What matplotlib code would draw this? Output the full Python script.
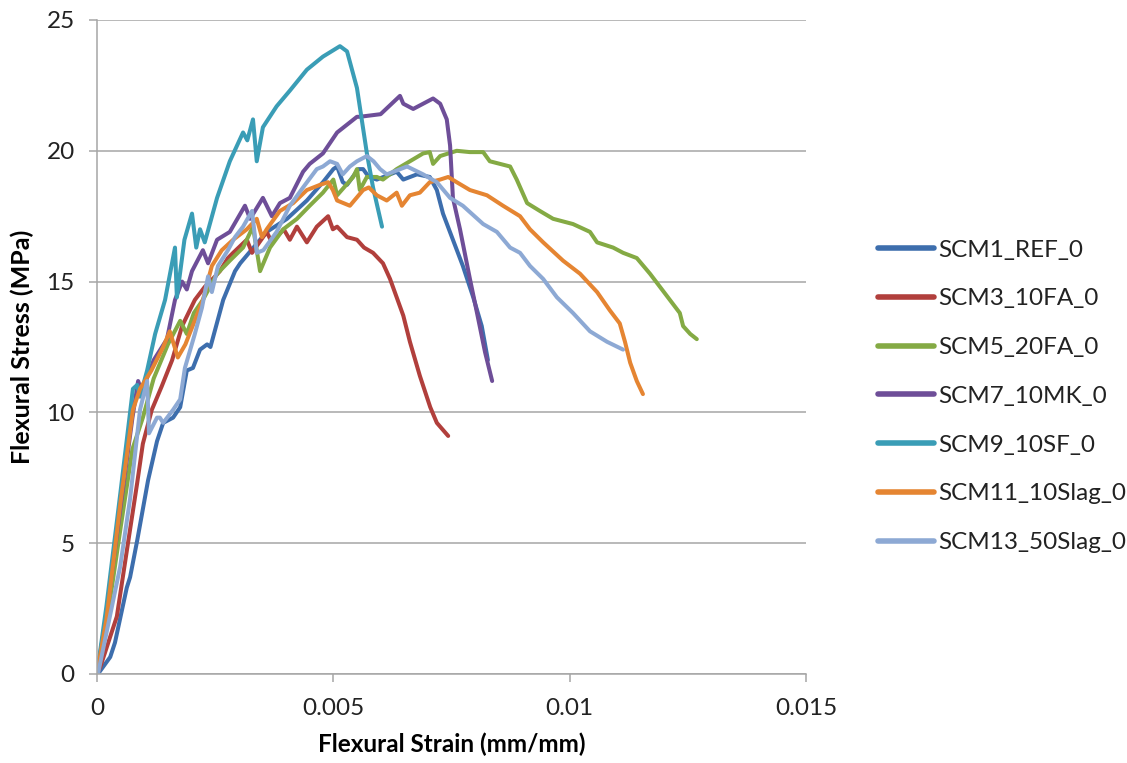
import matplotlib
matplotlib.use("Agg")
import matplotlib.pyplot as plt

plt.rcParams['font.family'] = ['Lato', 'DejaVu Sans']

# Flexural stress-strain curves (strain in mm/mm, stress in MPa)
ref_strain = [0, 0.00006, 0.00028, 0.00038, 0.00063, 0.0007, 0.00085, 0.00108, 0.00127, 0.0014,
              0.00161, 0.00176, 0.0019, 0.00203, 0.00218, 0.00233, 0.0024, 0.00267, 0.00292,
              0.00303, 0.00359, 0.00402, 0.00444, 0.00478, 0.005, 0.00508, 0.0052, 0.00529,
              0.00553, 0.00563, 0.00575, 0.00592, 0.00634, 0.00648, 0.00677, 0.00704, 0.00719,
              0.00732, 0.00753, 0.00774, 0.00796, 0.00814, 0.00827]
ref_stress = [0, 0.1, 0.65, 1.2, 3.3, 3.7, 5.1, 7.4, 8.9, 9.6,
              9.8, 10.2, 11.6, 11.7, 12.4, 12.6, 12.5, 14.3, 15.4,
              15.7, 16.9, 17.4, 18.1, 18.8, 19.3, 19.4, 18.8, 18.7,
              19.3, 19.3, 19.0, 18.9, 19.2, 18.9, 19.1, 19.0, 18.5,
              17.6, 16.6, 15.6, 14.4, 13.3, 12.0]

fa10_strain = [0, 0.00007, 0.00042, 0.00063, 0.00085, 0.00097, 0.00116, 0.00137, 0.00159, 0.0018,
               0.00207, 0.00228, 0.0025, 0.0026, 0.00277, 0.00288, 0.00317, 0.00328, 0.00359,
               0.0037, 0.00395, 0.00408, 0.00423, 0.00444, 0.00465, 0.00489, 0.00499, 0.00508,
               0.00529, 0.0055, 0.00565, 0.00584, 0.00605, 0.0062, 0.00634, 0.00648, 0.00662,
               0.00683, 0.00705, 0.00719, 0.00743]
fa10_stress = [0, 0.27, 2.2, 4.7, 7.3, 8.8, 10.1, 11.0, 12.0, 13.3,
               14.3, 14.8, 15.2, 15.4, 15.9, 16.1, 16.6, 16.1, 16.9,
               16.5, 17.0, 16.6, 17.1, 16.5, 17.1, 17.5, 17.0, 17.1,
               16.7, 16.6, 16.3, 16.1, 15.7, 15.1, 14.4, 13.7, 12.7,
               11.4, 10.2, 9.6, 9.1]

fa20_strain = [0, 0.0002, 0.0005, 0.00075, 0.00097, 0.0012, 0.0015, 0.00176, 0.0019, 0.00205,
               0.00224, 0.00254, 0.00281, 0.00309, 0.0033, 0.00345, 0.00366, 0.00394, 0.00423,
               0.0045, 0.00478, 0.005, 0.00508, 0.00542, 0.0055, 0.00556, 0.00571, 0.00592,
               0.00605, 0.00634, 0.00662, 0.0069, 0.00704, 0.00711, 0.00726, 0.00761, 0.00789,
               0.00817, 0.00831, 0.00874, 0.00888, 0.0091, 0.00937, 0.00965, 0.01007, 0.01043,
               0.01058, 0.01092, 0.01113, 0.01142, 0.0117, 0.01191, 0.01212, 0.01233, 0.0124,
               0.01255, 0.01269]
fa20_stress = [0, 1.9, 5.6, 8.6, 9.8, 11.3, 12.6, 13.5, 13.0, 13.8,
               14.3, 15.3, 15.8, 16.3, 17.1, 15.4, 16.3, 17.0, 17.4,
               17.9, 18.4, 18.9, 18.3, 19.0, 19.3, 18.5, 19.0, 19.0,
               18.9, 19.3, 19.6, 19.9, 19.95, 19.5, 19.8, 20.0, 19.95,
               19.95, 19.6, 19.4, 18.9, 18.0, 17.7, 17.4, 17.2, 16.9,
               16.5, 16.3, 16.1, 15.9, 15.3, 14.8, 14.3, 13.8, 13.3,
               13.0, 12.8]

mk10_strain = [0, 0.0002, 0.0005, 0.00075, 0.00087, 0.00095, 0.0012, 0.00148, 0.00165, 0.0018,
               0.0019, 0.00201, 0.00224, 0.00235, 0.00254, 0.00281, 0.00313, 0.00324, 0.00351,
               0.0037, 0.00387, 0.00408, 0.00436, 0.0045, 0.00478, 0.00508, 0.0055, 0.00556,
               0.006, 0.00641, 0.00648, 0.00669, 0.00711, 0.00726, 0.0074, 0.00747, 0.00753,
               0.00768, 0.00789, 0.00804, 0.00821, 0.00836]
mk10_stress = [0, 2.3, 6.4, 9.8, 11.2, 10.8, 12.0, 12.8, 14.3, 15.0,
               14.7, 15.4, 16.2, 15.7, 16.6, 16.9, 17.9, 17.4, 18.2,
               17.5, 18.0, 18.2, 19.2, 19.5, 19.9, 20.7, 21.3, 21.3,
               21.4, 22.1, 21.8, 21.6, 22.0, 21.8, 21.2, 20.2, 18.2,
               17.0, 15.1, 13.8, 12.3, 11.2]

sf10_strain = [0, 0.0002, 0.0005, 0.00076, 0.00085, 0.00091, 0.00106, 0.00123, 0.00144, 0.00165,
               0.00169, 0.00185, 0.00201, 0.0021, 0.00218, 0.00228, 0.00254, 0.00281, 0.00309,
               0.00318, 0.0033, 0.00338, 0.00351, 0.0038, 0.00408, 0.00444, 0.00478, 0.00514,
               0.00529, 0.0055, 0.00571, 0.00584, 0.00603]
sf10_stress = [0, 2.6, 7.0, 10.9, 11.05, 10.6, 11.6, 13.0, 14.3, 16.3,
               14.4, 16.6, 17.6, 16.3, 17.0, 16.5, 18.2, 19.6, 20.7,
               20.4, 21.2, 19.6, 20.9, 21.7, 22.3, 23.1, 23.6, 24.0,
               23.8, 22.4, 19.9, 18.6, 17.1]

slag10_strain = [0, 0.0002, 0.0005, 0.00076, 0.00091, 0.00115, 0.0014, 0.00154, 0.00171, 0.00187,
                 0.00211, 0.00224, 0.00243, 0.00264, 0.00288, 0.00317, 0.00338, 0.00349, 0.00359,
                 0.00387, 0.00415, 0.00444, 0.00472, 0.00489, 0.00499, 0.00508, 0.00535, 0.00563,
                 0.00575, 0.00592, 0.00613, 0.00634, 0.00645, 0.00662, 0.00683, 0.00704, 0.00726,
                 0.00743, 0.00761, 0.00789, 0.00825, 0.00859, 0.00895, 0.00916, 0.00944, 0.00986,
                 0.01022, 0.01058, 0.01085, 0.01106, 0.01117, 0.01128, 0.01142, 0.01155]
slag10_stress = [0, 2.1, 6.6, 10.1, 10.9, 11.6, 12.5, 13.1, 12.1, 12.6,
                 13.7, 14.3, 15.6, 16.2, 16.6, 17.0, 17.4, 16.7, 17.0,
                 17.7, 18.0, 18.5, 18.7, 18.8, 18.5, 18.1, 17.9, 18.5,
                 18.6, 18.3, 18.1, 18.4, 17.9, 18.3, 18.4, 18.8, 18.9,
                 19.0, 18.8, 18.5, 18.3, 17.9, 17.5, 17.0, 16.5, 15.8,
                 15.3, 14.6, 13.9, 13.4, 12.7, 11.9, 11.2, 10.7]

slag50_strain = [0, 0.00002, 0.00049, 0.0007, 0.00091, 0.00106, 0.0011, 0.00127, 0.00133, 0.0014,
                 0.00161, 0.00176, 0.00186, 0.00207, 0.00222, 0.00235, 0.00243, 0.00256, 0.00277,
                 0.00292, 0.00309, 0.00328, 0.00338, 0.00352, 0.0038, 0.00408, 0.00436, 0.00465,
                 0.00478, 0.00493, 0.00508, 0.0052, 0.00535, 0.0055, 0.00571, 0.00585, 0.00599,
                 0.00613, 0.00656, 0.0069, 0.00719, 0.00747, 0.00774, 0.00817, 0.00846, 0.00874,
                 0.00895, 0.00916, 0.00944, 0.00973, 0.01007, 0.01043, 0.01079, 0.01113]
slag50_stress = [0, 0.0, 4.1, 6.7, 10.1, 11.2, 9.2, 9.8, 9.8, 9.6,
                 10.1, 10.5, 11.7, 13.0, 14.0, 15.2, 14.6, 15.6, 16.2,
                 16.7, 17.1, 17.7, 16.1, 16.2, 16.9, 17.9, 18.6, 19.3,
                 19.4, 19.6, 19.5, 19.1, 19.4, 19.6, 19.8, 19.6, 19.3,
                 19.1, 19.4, 19.1, 18.8, 18.2, 17.9, 17.2, 16.9, 16.3,
                 16.1, 15.6, 15.1, 14.4, 13.8, 13.1, 12.7, 12.4]

series_names = ["SCM1_REF_0", "SCM3_10FA_0", "SCM5_20FA_0", "SCM7_10MK_0",
                "SCM9_10SF_0", "SCM11_10Slag_0", "SCM13_50Slag_0"]
series_strain = [ref_strain, fa10_strain, fa20_strain, mk10_strain,
                 sf10_strain, slag10_strain, slag50_strain]
series_stress = [ref_stress, fa10_stress, fa20_stress, mk10_stress,
                 sf10_stress, slag10_stress, slag50_stress]
series_colors = ["#3D6EAD", "#B13F3C", "#84AA44", "#6E4E98",
                 "#3A9DB6", "#E58532", "#8DA9D4"]

x_ticks = [0, 0.005, 0.01, 0.015]
x_tick_labels = ["0", "0.005", "0.01", "0.015"]
y_ticks = [0, 5, 10, 15, 20, 25]

fig = plt.figure(figsize=(11.27, 7.63), dpi=100)
ax = fig.add_axes([97 / 1127, 89 / 763, 709 / 1127, 654 / 763])

for xs, ys, name, col in zip(series_strain, series_stress, series_names, series_colors):
    ax.plot(xs, ys, color=col, lw=2.9, label=name, solid_joinstyle="round",
            solid_capstyle="round")

ax.set_xlim(0, 0.015)
ax.set_ylim(0, 25)
ax.set_xticks(x_ticks)
ax.set_xticklabels(x_tick_labels)
ax.set_yticks(y_ticks)

grid_col = "#A6A6A6"
ax.yaxis.grid(True, color=grid_col, lw=1.1)
ax.set_axisbelow(True)
for side in ("top", "right"):
    ax.spines[side].set_visible(False)
for side in ("left", "bottom"):
    ax.spines[side].set_color(grid_col)
    ax.spines[side].set_linewidth(1.1)
ax.tick_params(axis="both", direction="out", length=6, width=1.1, color=grid_col,
               labelsize=17.5, labelcolor="#222222")
ax.tick_params(axis="x", pad=11)
ax.tick_params(axis="y", pad=10)

ax.set_xlabel("Flexural Strain (mm/mm)", fontsize=17.5, fontweight="bold", labelpad=10)
ax.set_ylabel("Flexural Stress (MPa)", fontsize=18, fontweight="bold", labelpad=9)

leg = fig.legend(loc="upper left", bbox_to_anchor=(868 / 1127, 1 - 230 / 763),
                 frameon=False, fontsize=17.5, handlelength=2.3, handletextpad=0.2,
                 labelspacing=1.14, borderaxespad=0)
for line in leg.get_lines():
    line.set_linewidth(4)
for t in leg.get_texts():
    t.set_color("#222222")

fig.savefig("out.png", dpi=100)
